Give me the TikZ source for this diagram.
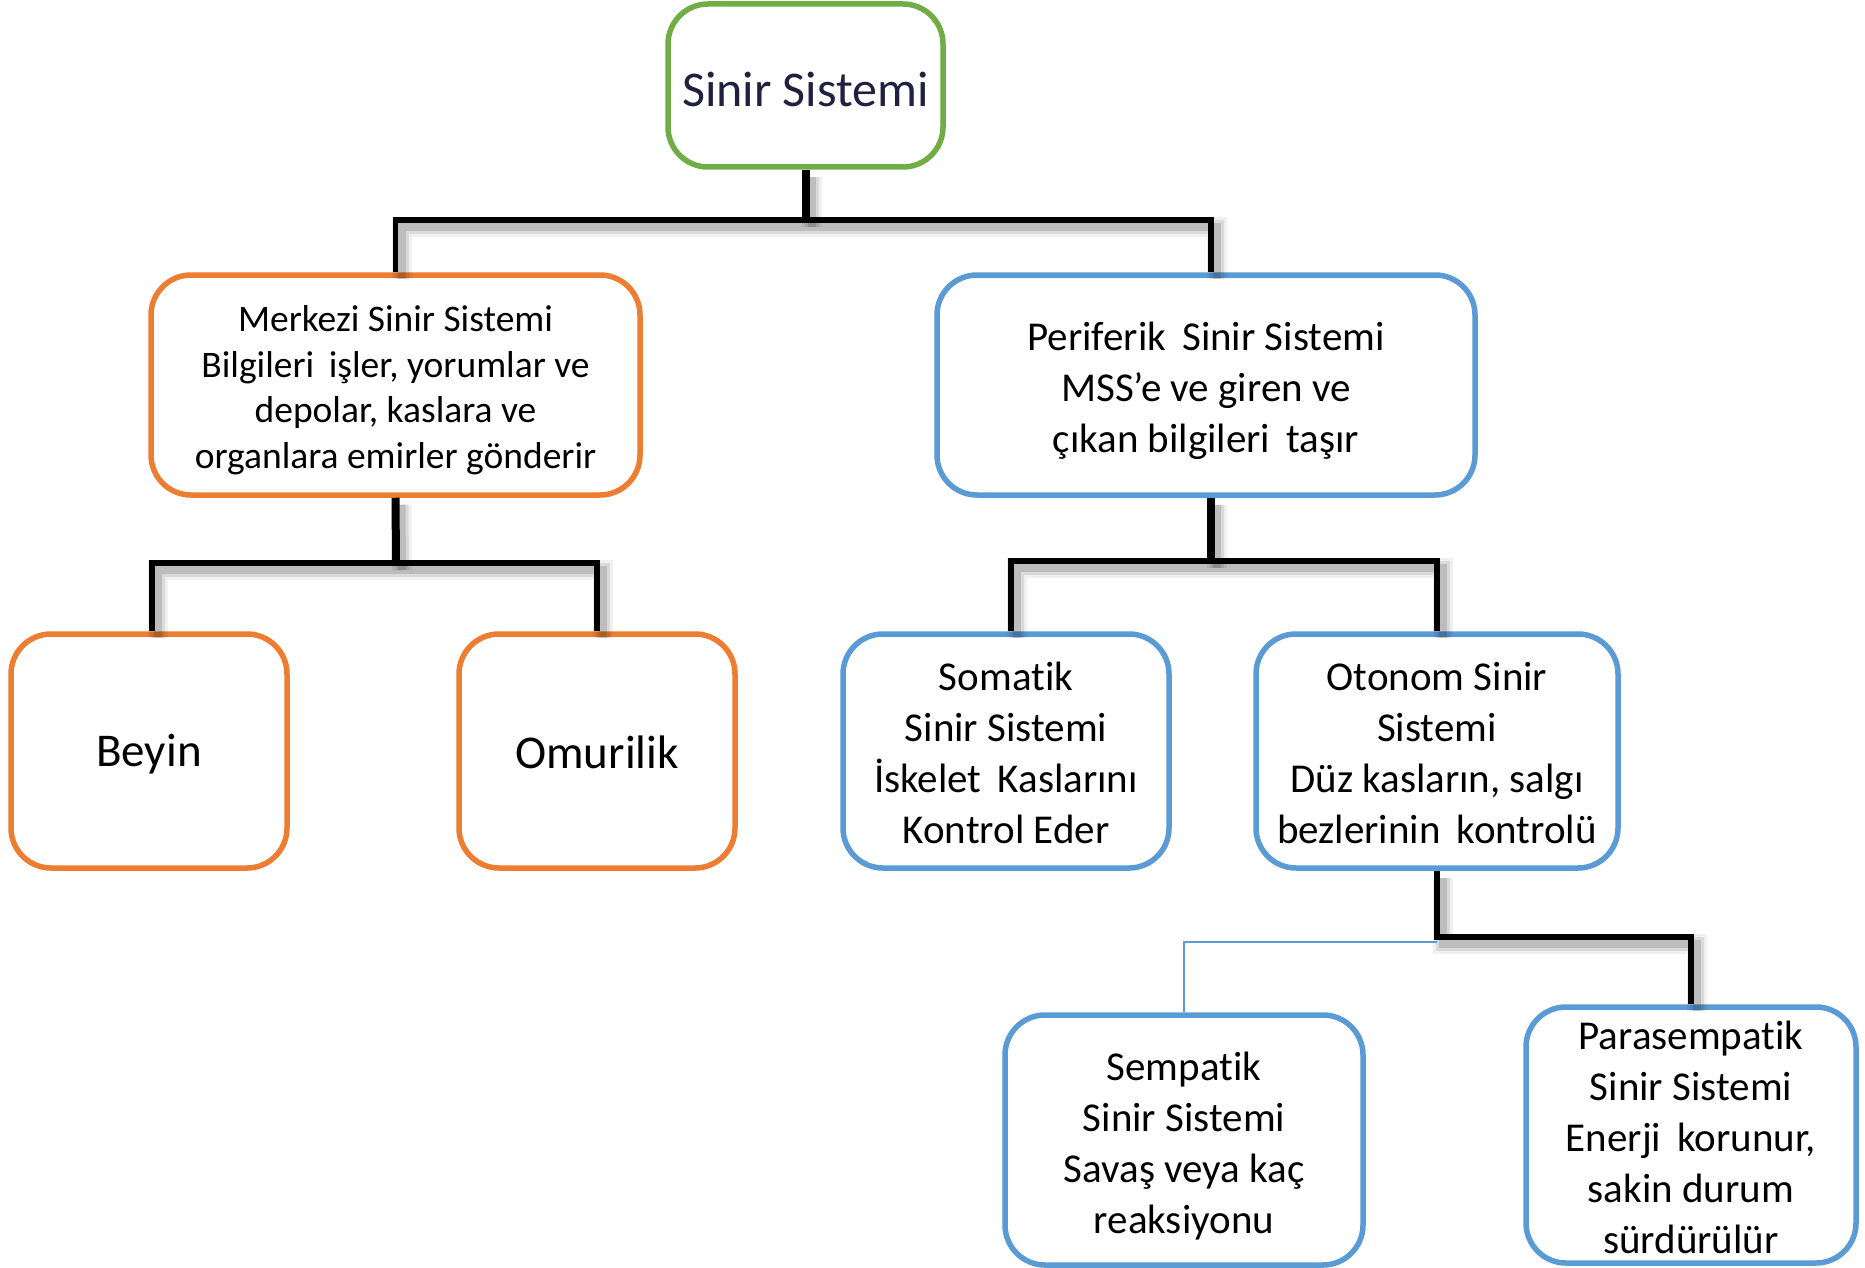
\documentclass[tikz,border=0pt]{standalone}
\usepackage{fontspec}
\setmainfont{Carlito}[Ligatures={NoCommon}]
\definecolor{grn}{HTML}{70AD47}
\definecolor{orng}{HTML}{ED7D31}
\definecolor{blu}{HTML}{5B9BD5}
\definecolor{navy}{RGB}{32,32,64}
\tikzset{
  bx/.style={draw, line width=5.5pt, rounded corners=40pt, fill=white, inner sep=0pt},
  txt/.style={inner sep=0pt, align=center, text=black},
  shd/.style={preaction={draw=black, opacity=.06, line width=20pt, transform canvas={shift={(6pt,-7pt)}}},
              preaction={draw=black, opacity=.09, line width=14pt, transform canvas={shift={(6pt,-7pt)}}},
              preaction={draw=black, opacity=.13, line width=8pt, transform canvas={shift={(6pt,-7pt)}}}},
  conn/.style={shd, draw=black, line width=5.5pt, line join=miter},
  stem/.style={shd, draw=black, line width=8pt, line join=miter},
  thinconn/.style={draw=blu, line width=1.6pt},
  fbig/.style={font=\fontsize{47pt}{56pt}\selectfont},
  fmid/.style={font=\fontsize{41pt}{51pt}\selectfont},
  fmss/.style={font=\fontsize{37.5pt}{45.5pt}\selectfont}
}
\begin{document}
\begin{tikzpicture}[x=1pt,y=-1pt]
\useasboundingbox (0,0) rectangle (1865,1268);
\fill[white] (0,0) rectangle (1865,1268);

% boxes
\node[bx, draw=grn, minimum width=275pt, minimum height=163pt] (top) at (805.5,85.5) {};
\node[bx, draw=orng, minimum width=489pt, minimum height=220pt] (mss) at (395.5,385) {};
\node[bx, draw=blu, minimum width=538pt, minimum height=220pt] (pss) at (1206,385) {};
\node[bx, draw=orng, minimum width=276pt, minimum height=234pt] (beyin) at (149,751) {};
\node[bx, draw=orng, minimum width=276pt, minimum height=234pt] (omur) at (597,751) {};
\node[bx, draw=blu, minimum width=326pt, minimum height=234pt] (som) at (1006,751) {};
\node[bx, draw=blu, minimum width=362pt, minimum height=234pt] (oto) at (1437,751) {};
\node[bx, draw=blu, minimum width=358pt, minimum height=250pt] (semp) at (1184,1140) {};
\node[bx, draw=blu, minimum width=330pt, minimum height=256pt] (para) at (1691,1135) {};

% texts
\node[txt, text=navy, font=\fontsize{50pt}{58pt}\selectfont] (ttop) at ([yshift=-4pt]top.center) {Sinir Sistemi};
\node[txt, fmss] (tmss) at ([yshift=-5pt]mss.center)
  {Merkezi Sinir Sistemi\\Bilgileri\, işler, yorumlar ve\\depolar, kaslara ve\\organlara emirler gönderir};
\node[txt, fmid] (tpss) at ([yshift=-6pt]pss.center)
  {Periferik\, Sinir Sistemi\\MSS’e ve giren ve\\çıkan bilgileri\, taşır};
\node[txt, fbig] (tbeyin) at ([yshift=-3pt]beyin.center) {Beyin};
\node[txt, fbig] (tomur) at ([yshift=-1pt]omur.center) {Omurilik};
\node[txt, fmid] (tsom) at ([yshift=-2pt]som.center)
  {Somatik\\Sinir Sistemi\\İskelet\, Kaslarını\\Kontrol Eder};
\node[txt, fmid] (toto) at ([yshift=-2pt]oto.center)
  {Otonom Sinir\\Sistemi\\Düz kasların, salgı\\bezlerinin\, kontrolü};
\node[txt, fmid] (tsemp) at ([yshift=-6pt]semp.center)
  {Sempatik\\Sinir Sistemi\\Savaş veya kaç\\reaksiyonu};
\node[txt, fmid] (tpara) at ([yshift=-2pt]para.center)
  {Parasempatik\\Sinir Sistemi\\Enerji\, korunur,\\sakin durum\\sürdürülür};

% junctions
\coordinate (j1) at (805.5,220);
\coordinate (j2) at (396,563);
\coordinate (j3) at (1211,561);
\coordinate (j4) at (1437,937);
\coordinate (j5) at (1437,942);

% connectors
\draw[stem] (top.south) -- (j1);
\draw[conn] (mss.north) |- (j1) -| ([xshift=5pt]pss.north);

\draw[stem] (mss.south) -- (j2);
\draw[conn] ([xshift=3pt]beyin.north) |- (j2) -| (omur.north);

\draw[stem] ([xshift=5pt]pss.south) -- (j3);
\draw[conn] ([xshift=5pt]som.north) |- (j3) -| (oto.north);

\draw[conn] (oto.south) |- (j4) -| (para.north);
\draw[thinconn] (j5) -| (semp.north);
\end{tikzpicture}
\end{document}
